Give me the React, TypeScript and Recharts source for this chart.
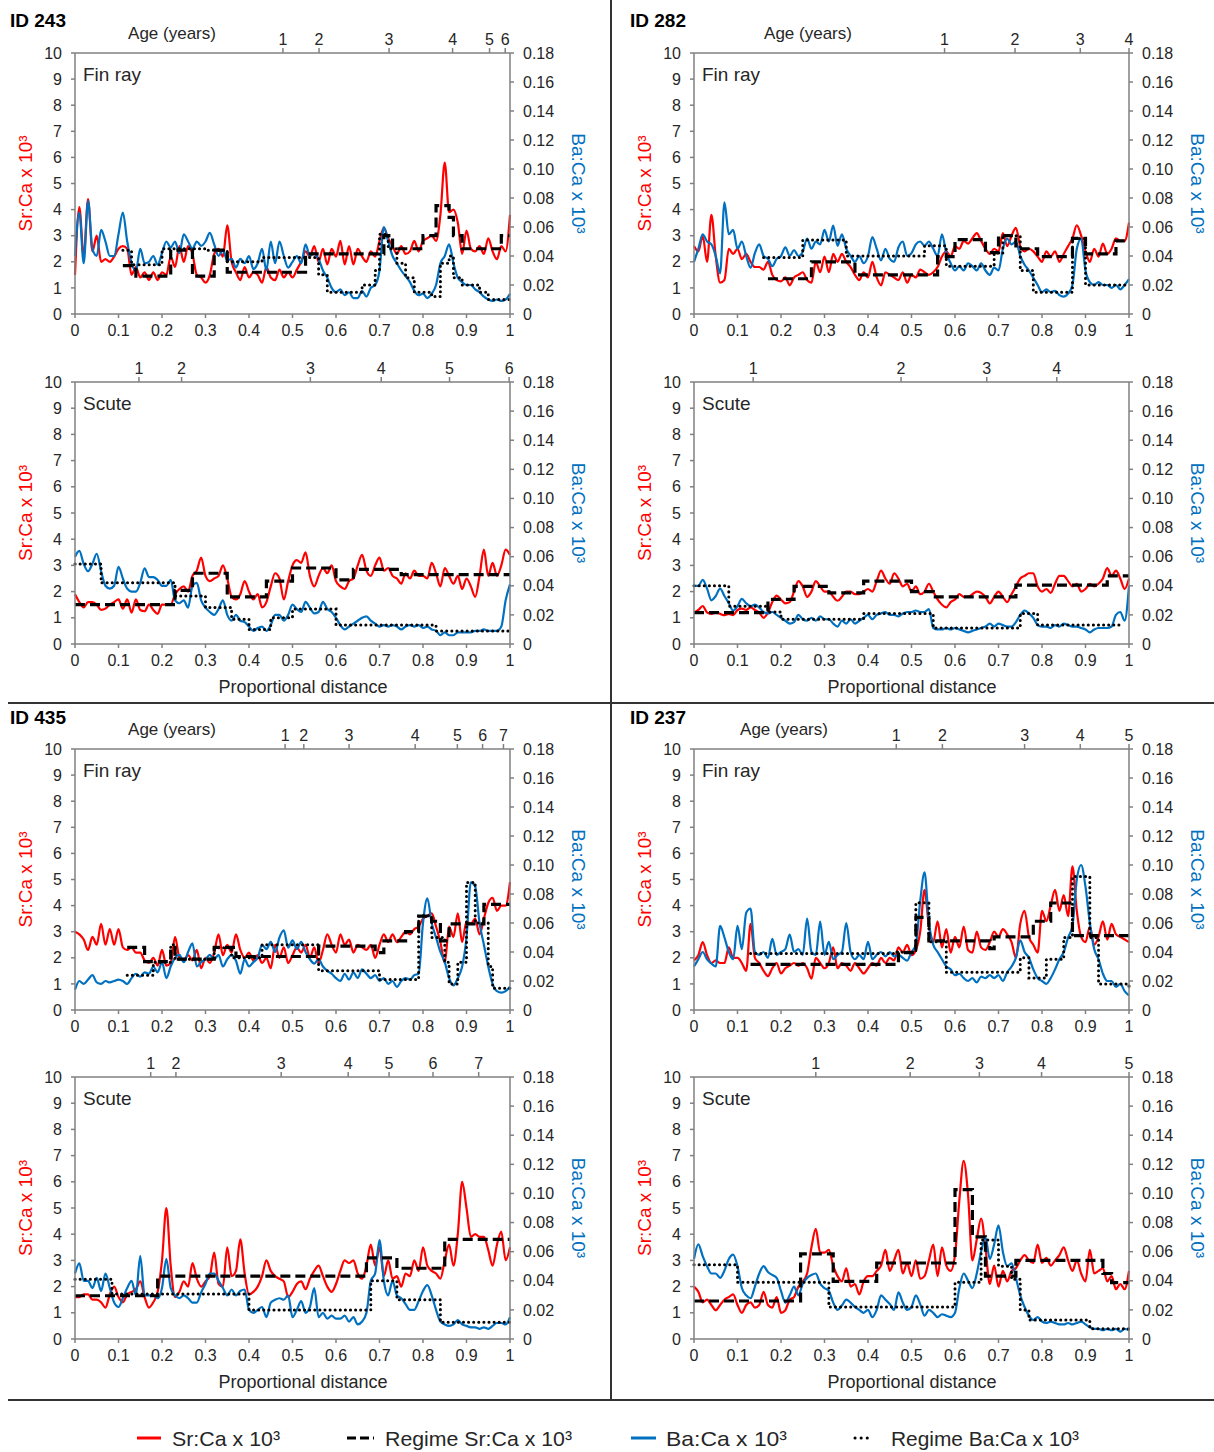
import React from 'react';
import { ComposedChart, Line, XAxis, YAxis } from 'recharts';

type Pt = [number, number];

const RED = '#ff0000';
const BLUE = '#0070c0';
const AXIS = '#808080';
const INK = '#262626';
const FONT = '"Liberation Sans", Arial, sans-serif';

// proportional distance grid shared by every profile
const DIST = Array.from({ length: 101 }, (_, i) => i / 100);
const X_TICKS = [0, 0.1, 0.2, 0.3, 0.4, 0.5, 0.6, 0.7, 0.8, 0.9, 1];
const SR_TICKS = [0, 1, 2, 3, 4, 5, 6, 7, 8, 9, 10];
const BA_TICKS = [0, 0.02, 0.04, 0.06, 0.08, 0.1, 0.12, 0.14, 0.16, 0.18];

// ---- ID 243 ----
const SR_243_FIN = [
  1.5, 4.1, 2.2, 4.4, 2.4, 3.0, 2.0, 2.1, 2.0, 2.2,
  2.5, 2.6, 2.5, 1.5, 1.8, 1.4, 1.6, 1.3, 1.6, 1.3,
  1.6, 1.5, 2.2, 1.8, 2.6, 2.0, 2.6, 2.3, 1.5, 1.4,
  1.2, 1.5, 2.3, 2.5, 2.2, 3.4, 2.0, 1.6, 1.3, 1.8,
  1.4, 1.6, 1.5, 1.2, 1.8, 1.4, 1.3, 1.7, 1.4, 1.6,
  1.4, 1.7, 2.0, 2.4, 2.2, 2.6, 2.0, 2.5, 1.9, 2.5,
  2.2, 2.8, 1.9, 2.6, 1.9, 2.5, 2.2, 2.0, 2.4, 2.2,
  2.8, 3.3, 2.9, 2.6, 2.3, 2.6, 2.3, 2.4, 2.8, 2.4,
  2.8, 2.9, 3.0, 2.8, 3.8, 5.8, 3.9, 4.0, 3.5, 2.3,
  3.2, 2.5, 2.4, 2.6, 2.3, 2.9, 2.4, 2.1, 2.6, 2.4,
  3.8,
];
const BA_243_FIN = [
  0.040, 0.070, 0.035, 0.078, 0.045, 0.040, 0.058, 0.050, 0.040, 0.040,
  0.055, 0.070, 0.050, 0.035, 0.030, 0.045, 0.035, 0.036, 0.040, 0.034,
  0.042, 0.050, 0.046, 0.050, 0.042, 0.055, 0.050, 0.045, 0.050, 0.047,
  0.050, 0.056, 0.048, 0.040, 0.044, 0.037, 0.038, 0.032, 0.038, 0.035,
  0.040, 0.031, 0.035, 0.045, 0.030, 0.050, 0.035, 0.050, 0.040, 0.032,
  0.036, 0.040, 0.035, 0.048, 0.040, 0.042, 0.038, 0.030, 0.025, 0.018,
  0.015, 0.017, 0.013, 0.015, 0.011, 0.011, 0.016, 0.012, 0.018, 0.020,
  0.030, 0.060, 0.050, 0.040, 0.035, 0.030, 0.026, 0.022, 0.016, 0.013,
  0.014, 0.011, 0.014, 0.020, 0.035, 0.040, 0.048, 0.035, 0.025, 0.022,
  0.020, 0.020, 0.017, 0.015, 0.012, 0.010, 0.009, 0.010, 0.009, 0.010,
  0.014,
];
const RSR_243_FIN: Pt[] = [[0.11, 1.85], [0.14, 1.45], [0.22, 2.45], [0.27, 1.45], [0.32, 2.45], [0.35, 1.6], [0.53, 2.3], [0.71, 3.0], [0.73, 2.5], [0.8, 3.0], [0.83, 4.15], [0.86, 3.7], [0.87, 3.0], [0.89, 2.5], [0.98, 3.0], [1.0, 3.0]];
const RBA_243_FIN: Pt[] = [[0.11, 0.044], [0.13, 0.034], [0.2, 0.045], [0.3, 0.044], [0.35, 0.036], [0.43, 0.039], [0.56, 0.027], [0.58, 0.015], [0.66, 0.02], [0.69, 0.03], [0.7, 0.055], [0.72, 0.045], [0.74, 0.035], [0.76, 0.025], [0.78, 0.015], [0.82, 0.012], [0.84, 0.035], [0.86, 0.04], [0.87, 0.025], [0.89, 0.02], [0.93, 0.015], [0.95, 0.01], [1.0, 0.01]];
const AGE_243_FIN = [0.478, 0.561, 0.722, 0.868, 0.953, 0.989];

const SR_243_SCUTE = [
  1.9, 1.6, 1.4, 1.6, 1.6, 1.5, 1.3, 1.35, 1.5, 1.6,
  1.7, 1.35, 1.7, 1.2, 1.7, 1.3, 1.25, 1.5, 1.3, 1.15,
  1.5, 1.5, 1.5, 1.9, 2.1, 2.2, 2.0, 2.6, 2.8, 3.3,
  2.6, 2.4, 2.5, 2.6, 3.0, 2.5, 1.8, 1.7, 1.9, 2.4,
  2.0, 1.7, 1.9, 1.4, 1.6, 2.2, 2.7, 2.5, 1.7, 2.4,
  3.0, 3.2, 3.1, 3.5, 2.6, 2.2, 2.6, 2.9, 2.7, 3.0,
  2.4, 2.2, 2.1, 2.4, 2.5, 3.0, 3.4, 2.8, 2.6, 3.0,
  3.3, 2.8, 2.9, 2.6, 2.5, 2.3, 2.7, 2.5, 2.8, 2.6,
  2.6, 2.5, 3.1, 2.7, 2.2, 2.9, 2.6, 2.3, 2.6, 2.1,
  2.5, 2.2, 1.8, 2.6, 3.6, 2.6, 3.1, 2.6, 3.0, 3.6,
  3.4,
];
const BA_243_SCUTE = [
  0.060, 0.064, 0.055, 0.050, 0.055, 0.062, 0.050, 0.040, 0.038, 0.040,
  0.053, 0.045, 0.038, 0.036, 0.036, 0.042, 0.052, 0.046, 0.046, 0.044,
  0.040, 0.040, 0.044, 0.030, 0.028, 0.030, 0.025, 0.040, 0.042, 0.030,
  0.025, 0.022, 0.020, 0.024, 0.030, 0.020, 0.016, 0.020, 0.016, 0.015,
  0.012, 0.009, 0.011, 0.012, 0.009, 0.013, 0.020, 0.020, 0.016, 0.020,
  0.027, 0.024, 0.022, 0.029, 0.025, 0.021, 0.022, 0.029, 0.024, 0.022,
  0.018, 0.013, 0.010, 0.012, 0.014, 0.016, 0.018, 0.019, 0.016, 0.014,
  0.012, 0.013, 0.012, 0.013, 0.012, 0.010, 0.012, 0.013, 0.012, 0.013,
  0.011, 0.012, 0.010, 0.009, 0.006, 0.008, 0.006, 0.006, 0.008, 0.008,
  0.008, 0.008, 0.009, 0.009, 0.010, 0.009, 0.009, 0.009, 0.012, 0.030,
  0.041,
];
const RSR_243_SCUTE: Pt[] = [[0, 1.5], [0.23, 2.05], [0.27, 2.7], [0.35, 1.8], [0.44, 2.4], [0.5, 2.9], [0.6, 2.45], [0.64, 2.85], [0.75, 2.65], [1.0, 2.65]];
const RBA_243_SCUTE: Pt[] = [[0, 0.055], [0.06, 0.042], [0.23, 0.033], [0.3, 0.025], [0.36, 0.017], [0.4, 0.01], [0.45, 0.018], [0.5, 0.024], [0.6, 0.013], [0.83, 0.009], [1.0, 0.009]];
const AGE_243_SCUTE = [0.147, 0.245, 0.541, 0.704, 0.861, 0.998];

// ---- ID 282 ----
const SR_282_FIN = [
  2.6, 2.4, 3.0, 2.0, 3.8, 2.2, 1.2, 1.3, 2.5, 2.3,
  2.5, 2.1, 2.3, 2.0, 1.8, 1.8, 1.7, 2.0, 1.5, 1.3,
  1.25, 1.4, 1.1, 1.4, 1.5, 1.6, 1.3, 1.2, 2.0, 1.6,
  2.2, 1.6, 2.3, 2.0, 2.3, 2.0, 1.8, 1.5, 1.3, 1.6,
  1.4, 2.0, 1.4, 1.1, 1.6, 1.5, 1.4, 1.3, 1.6, 1.2,
  1.5, 1.4, 1.7, 1.6, 1.5, 1.6, 1.8, 2.2, 2.4, 2.2,
  2.6, 2.5, 2.8, 2.7, 2.9, 3.1, 2.8, 2.5, 2.3, 2.5,
  2.4, 3.1, 2.6, 3.0, 3.3, 2.6, 2.4, 2.5, 2.4, 2.2,
  2.0, 2.4, 2.2, 2.4, 2.0, 2.3, 2.6, 2.9, 3.4, 3.0,
  2.4, 2.0, 2.5, 2.2, 2.7, 2.3, 2.5, 2.9, 2.8, 2.8,
  3.5,
];
const BA_282_FIN = [
  0.036, 0.045, 0.055, 0.050, 0.048, 0.040, 0.028, 0.077, 0.055, 0.058,
  0.045, 0.050, 0.040, 0.032, 0.042, 0.048, 0.040, 0.038, 0.033, 0.038,
  0.040, 0.046, 0.040, 0.044, 0.040, 0.043, 0.052, 0.045, 0.050, 0.048,
  0.058, 0.050, 0.061, 0.047, 0.055, 0.045, 0.040, 0.036, 0.040, 0.035,
  0.040, 0.053, 0.045, 0.037, 0.045, 0.038, 0.036, 0.046, 0.050, 0.040,
  0.042, 0.048, 0.050, 0.047, 0.050, 0.045, 0.040, 0.055, 0.042, 0.035,
  0.030, 0.033, 0.030, 0.035, 0.033, 0.030, 0.035, 0.030, 0.027, 0.032,
  0.030, 0.045, 0.052, 0.048, 0.050, 0.040, 0.034, 0.030, 0.025, 0.020,
  0.015, 0.017, 0.015, 0.016, 0.013, 0.012, 0.014, 0.020, 0.045, 0.052,
  0.030, 0.022, 0.020, 0.022, 0.020, 0.020, 0.018, 0.020, 0.017, 0.020,
  0.024,
];
const RSR_282_FIN: Pt[] = [[0.17, 1.35], [0.27, 2.0], [0.37, 1.5], [0.56, 2.2], [0.6, 2.85], [0.67, 2.35], [0.7, 3.0], [0.74, 2.5], [0.79, 2.2], [0.87, 2.9], [0.9, 2.3], [0.97, 2.8], [1.0, 2.8]];
const RBA_282_FIN: Pt[] = [[0.16, 0.039], [0.25, 0.051], [0.35, 0.04], [0.53, 0.047], [0.58, 0.033], [0.69, 0.042], [0.71, 0.054], [0.75, 0.03], [0.78, 0.015], [0.87, 0.052], [0.9, 0.02], [1.0, 0.02]];
const AGE_282_FIN = [0.576, 0.738, 0.888, 1.0];

const SR_282_SCUTE = [
  1.2, 1.3, 1.45, 1.2, 1.15, 1.2, 1.15, 1.1, 1.15, 1.1,
  1.3, 1.35, 1.3, 1.4, 1.3, 1.2, 1.0, 1.2, 1.6, 1.85,
  1.7, 1.55, 1.6, 2.0, 2.4, 2.2, 1.8, 2.0, 2.4, 2.2,
  2.0, 2.0, 1.8, 1.65, 1.8, 2.0, 2.0, 1.9, 1.9, 2.0,
  2.1, 2.0, 2.4, 2.8, 2.5, 2.3, 2.7, 2.5, 2.2, 2.3,
  2.0, 2.2, 1.9, 2.0, 2.3, 2.0, 1.7, 1.5, 1.4, 1.6,
  1.7, 1.9, 1.8, 1.8, 1.9, 2.0, 1.95, 1.8, 1.55, 1.8,
  2.0, 1.8, 1.6, 1.9, 2.2, 2.5, 2.6, 2.7, 2.7, 2.2,
  2.0, 2.1, 1.95, 2.3, 2.6, 2.6, 2.4, 2.2, 2.3, 2.0,
  2.1, 2.3, 2.2, 2.3, 2.5, 2.9, 2.6, 2.8, 2.5, 2.1,
  2.5,
];
const BA_282_SCUTE = [
  0.040, 0.040, 0.044, 0.038, 0.030, 0.033, 0.038, 0.033, 0.028, 0.023,
  0.026, 0.031, 0.028, 0.026, 0.027, 0.025, 0.022, 0.021, 0.022, 0.020,
  0.018, 0.016, 0.014, 0.015, 0.020, 0.017, 0.016, 0.018, 0.016, 0.019,
  0.017, 0.017, 0.014, 0.012, 0.016, 0.014, 0.017, 0.014, 0.016, 0.018,
  0.020, 0.017, 0.020, 0.021, 0.022, 0.020, 0.020, 0.019, 0.021, 0.022,
  0.022, 0.023, 0.022, 0.022, 0.024, 0.011, 0.010, 0.010, 0.011, 0.010,
  0.011, 0.010, 0.009, 0.008, 0.009, 0.010, 0.011, 0.012, 0.014, 0.012,
  0.014, 0.013, 0.012, 0.012, 0.015, 0.020, 0.023, 0.021, 0.018, 0.013,
  0.012, 0.012, 0.011, 0.013, 0.012, 0.014, 0.013, 0.012, 0.012, 0.011,
  0.010, 0.008, 0.010, 0.011, 0.011, 0.011, 0.012, 0.020, 0.022, 0.016,
  0.040,
];
const RSR_282_SCUTE: Pt[] = [[0, 1.2], [0.17, 1.7], [0.23, 2.2], [0.31, 1.95], [0.39, 2.4], [0.5, 2.0], [0.55, 1.8], [0.74, 2.25], [0.95, 2.6], [1.0, 2.6]];
const RBA_282_SCUTE: Pt[] = [[0, 0.04], [0.08, 0.026], [0.17, 0.022], [0.2, 0.017], [0.39, 0.021], [0.55, 0.011], [0.75, 0.021], [0.79, 0.013], [0.98, 0.013]];
const AGE_282_SCUTE = [0.136, 0.476, 0.673, 0.834];

// ---- ID 435 ----
const SR_435_FIN = [
  3.0, 2.9, 2.7, 2.3, 2.8, 2.5, 3.3, 2.5, 3.1, 2.5,
  3.1, 2.4, 2.3, 2.4, 2.2, 2.2, 1.9, 1.8, 2.0, 1.7,
  2.3, 1.7, 1.8, 2.8, 2.0, 1.9, 2.1, 1.9, 2.3, 1.6,
  2.0, 1.8, 2.2, 2.9, 2.1, 2.5, 2.2, 2.9, 2.3, 2.0,
  2.2, 1.9, 2.1, 1.8, 2.0, 1.6, 2.5, 2.0, 2.4, 1.8,
  2.1, 2.4, 2.2, 2.5, 2.0, 2.4, 1.8, 2.3, 2.9, 2.5,
  2.2, 2.9, 2.5, 2.7, 2.2, 2.5, 2.4, 2.3, 2.5, 2.0,
  2.5, 2.9, 2.6, 2.9, 2.6, 2.8, 3.0, 2.9, 3.1, 3.2,
  3.5, 3.6, 3.7, 3.2, 2.6, 1.8, 3.2, 2.8, 3.7, 2.6,
  3.4, 3.3, 3.5, 2.9, 3.5, 4.1, 4.3, 3.8, 4.0, 4.0,
  4.9,
];
const BA_435_FIN = [
  0.014, 0.020, 0.018, 0.021, 0.024, 0.019, 0.018, 0.020, 0.019, 0.020,
  0.021, 0.020, 0.018, 0.022, 0.025, 0.023, 0.026, 0.025, 0.030, 0.026,
  0.033, 0.022, 0.030, 0.036, 0.038, 0.033, 0.040, 0.046, 0.030, 0.033,
  0.035, 0.038, 0.035, 0.038, 0.030, 0.035, 0.038, 0.034, 0.025, 0.035,
  0.030, 0.033, 0.036, 0.045, 0.042, 0.047, 0.040, 0.050, 0.055, 0.043,
  0.048, 0.042, 0.047, 0.040, 0.035, 0.032, 0.035, 0.030, 0.027, 0.025,
  0.022, 0.020, 0.025, 0.021, 0.026, 0.022, 0.028, 0.025, 0.022, 0.024,
  0.020, 0.022, 0.018, 0.020, 0.016, 0.020, 0.022, 0.021, 0.024, 0.025,
  0.060, 0.077, 0.060, 0.050, 0.040, 0.033, 0.022, 0.017, 0.022, 0.030,
  0.050, 0.088, 0.085, 0.060, 0.045, 0.030, 0.018, 0.013, 0.012, 0.013,
  0.016,
];
const RSR_435_FIN: Pt[] = [[0.12, 2.4], [0.16, 1.85], [0.22, 2.4], [0.23, 1.95], [0.32, 2.4], [0.37, 2.05], [0.56, 2.45], [0.69, 2.2], [0.71, 2.65], [0.76, 3.0], [0.79, 3.6], [0.82, 3.4], [0.84, 2.65], [0.86, 3.3], [0.94, 4.05], [1.0, 4.05]];
const RBA_435_FIN: Pt[] = [[0.12, 0.024], [0.18, 0.033], [0.22, 0.045], [0.23, 0.035], [0.32, 0.043], [0.36, 0.036], [0.43, 0.045], [0.56, 0.027], [0.7, 0.021], [0.79, 0.065], [0.82, 0.05], [0.85, 0.033], [0.86, 0.018], [0.88, 0.033], [0.9, 0.088], [0.92, 0.06], [0.95, 0.03], [0.96, 0.015], [1.0, 0.015]];
const AGE_435_FIN = [0.483, 0.526, 0.63, 0.782, 0.879, 0.937, 0.985];

const SR_435_SCUTE = [
  1.6, 1.6, 1.7, 1.7, 1.5, 1.5, 1.4, 1.2, 1.7, 2.0,
  1.6, 1.4, 1.7, 1.8, 1.9, 2.2, 1.6, 1.2, 1.4, 1.8,
  3.0, 5.0, 2.8, 1.6, 1.8, 2.2, 2.0, 2.9, 2.3, 2.0,
  2.2, 2.4, 3.3, 2.1, 2.0, 3.5, 2.4, 2.6, 3.8, 2.5,
  1.7, 1.8, 2.0, 2.4, 3.0, 2.6, 2.4, 2.3, 2.2, 1.6,
  1.8, 2.1, 2.2, 1.9, 2.3, 2.6, 2.8, 2.4, 2.0, 1.8,
  2.1, 2.6, 3.0, 2.9, 3.0, 2.5, 2.3, 2.8, 3.6, 2.8,
  3.5, 2.4, 3.0, 2.3, 2.4, 2.0, 2.5, 2.4, 3.0, 2.6,
  3.5, 2.8, 2.6, 2.5, 2.3, 3.0, 3.6, 2.8, 4.0, 6.0,
  5.0, 3.9, 4.0, 3.9, 3.9, 3.4, 2.8, 3.6, 4.1, 3.0,
  3.5,
];
const BA_435_SCUTE = [
  0.045, 0.052, 0.040, 0.040, 0.035, 0.042, 0.033, 0.045, 0.035, 0.025,
  0.022, 0.028, 0.035, 0.040, 0.030, 0.057, 0.030, 0.030, 0.030, 0.028,
  0.035, 0.055, 0.035, 0.030, 0.028, 0.030, 0.028, 0.025, 0.025, 0.032,
  0.038, 0.045, 0.045, 0.040, 0.035, 0.030, 0.034, 0.030, 0.033, 0.034,
  0.020, 0.018, 0.020, 0.022, 0.015, 0.025, 0.027, 0.028, 0.027, 0.030,
  0.015, 0.020, 0.026, 0.018, 0.022, 0.035, 0.015, 0.018, 0.014, 0.016,
  0.014, 0.014, 0.016, 0.012, 0.015, 0.010, 0.012, 0.018, 0.040, 0.045,
  0.068, 0.040, 0.030, 0.040, 0.030, 0.028, 0.024, 0.020, 0.020, 0.026,
  0.033, 0.037, 0.030, 0.020, 0.012, 0.010, 0.009, 0.010, 0.013, 0.010,
  0.009, 0.008, 0.008, 0.007, 0.008, 0.007, 0.009, 0.011, 0.011, 0.010,
  0.015,
];
const RSR_435_SCUTE: Pt[] = [[0, 1.65], [0.19, 2.4], [0.67, 3.1], [0.74, 2.7], [0.85, 3.8], [1.0, 3.8]];
const RBA_435_SCUTE: Pt[] = [[0, 0.041], [0.085, 0.031], [0.4, 0.02], [0.68, 0.04], [0.74, 0.027], [0.84, 0.0115], [1.0, 0.0115]];
const AGE_435_SCUTE = [0.174, 0.232, 0.474, 0.628, 0.722, 0.823, 0.928];

// ---- ID 237 ----
const SR_237_FIN = [
  1.9, 2.1, 2.6, 2.1, 1.8, 1.9, 1.8, 1.8, 2.4, 2.0,
  2.0, 1.8, 1.5, 3.3, 2.0, 1.8, 1.5, 1.3, 1.6, 1.8,
  1.4, 1.6, 1.7, 1.8, 1.7, 1.8, 1.6, 1.2, 2.0, 1.8,
  1.6, 1.8, 2.4, 1.6, 1.8, 1.7, 1.5, 1.8, 1.6, 1.4,
  1.6, 1.8, 1.7, 2.0, 1.8, 2.0, 1.9, 2.4, 2.2, 2.5,
  2.1, 2.3, 3.0, 4.6, 3.2, 2.6, 3.4, 2.4, 3.1, 2.2,
  2.8, 2.4, 3.2, 2.3, 2.2, 3.0, 2.4, 2.3, 2.6, 3.0,
  2.8, 3.1, 2.9, 2.6, 2.0, 3.3, 3.8, 2.8, 2.5, 2.2,
  3.8, 3.4, 4.0, 4.6, 3.8, 4.4, 3.6, 5.5, 3.8, 2.8,
  2.6, 3.2, 2.5, 2.8, 3.4, 2.7, 3.3, 2.9, 2.8, 2.7,
  2.6,
];
const BA_237_FIN = [
  0.030, 0.035, 0.040, 0.035, 0.032, 0.030, 0.058, 0.050, 0.040, 0.035,
  0.058, 0.042, 0.067, 0.070, 0.040, 0.038, 0.040, 0.036, 0.049, 0.038,
  0.040, 0.042, 0.052, 0.040, 0.042, 0.038, 0.063, 0.040, 0.038, 0.061,
  0.038, 0.047, 0.035, 0.038, 0.040, 0.060, 0.040, 0.035, 0.038, 0.035,
  0.047, 0.035, 0.038, 0.040, 0.037, 0.040, 0.037, 0.038, 0.036, 0.034,
  0.040, 0.045, 0.075, 0.095, 0.060, 0.045, 0.040, 0.035, 0.030, 0.028,
  0.024, 0.025, 0.022, 0.020, 0.022, 0.019, 0.023, 0.022, 0.024, 0.022,
  0.024, 0.020, 0.026, 0.030, 0.036, 0.048, 0.040, 0.036, 0.028, 0.022,
  0.020, 0.018, 0.022, 0.028, 0.035, 0.040, 0.050, 0.058, 0.090, 0.100,
  0.085, 0.060, 0.042, 0.035, 0.025, 0.020, 0.020, 0.016, 0.018, 0.013,
  0.010,
];
const RSR_237_FIN: Pt[] = [[0.13, 1.75], [0.47, 2.2], [0.51, 3.55], [0.54, 2.65], [0.68, 2.35], [0.69, 2.8], [0.78, 3.4], [0.82, 4.1], [0.87, 2.85], [1.0, 2.85]];
const RBA_237_FIN: Pt[] = [[0.13, 0.039], [0.46, 0.04], [0.51, 0.074], [0.54, 0.047], [0.58, 0.026], [0.75, 0.036], [0.77, 0.022], [0.81, 0.035], [0.85, 0.05], [0.87, 0.092], [0.91, 0.05], [0.93, 0.018], [1.0, 0.015]];
const AGE_237_FIN = [0.465, 0.571, 0.76, 0.888, 1.0];

const SR_237_SCUTE = [
  2.0, 1.8, 1.4, 1.5, 1.3, 1.1, 1.3, 1.5, 1.6, 1.7,
  1.3, 1.0, 1.3, 1.4, 1.2, 1.3, 1.8, 1.3, 1.2, 1.6,
  1.0, 1.1, 1.5, 1.6, 2.0, 2.2, 2.5, 3.5, 4.2, 3.3,
  3.3, 3.4, 2.8, 2.4, 2.2, 2.7, 2.0, 2.1, 1.7, 2.2,
  2.4, 2.4, 2.6, 2.8, 3.4, 2.6, 3.0, 3.4, 2.5, 2.9,
  2.4, 3.0, 2.3, 2.4, 3.0, 3.6, 2.4, 3.5, 2.8, 2.6,
  3.2, 5.3, 6.8, 5.5, 3.0, 3.8, 4.6, 3.5, 2.1, 2.8,
  2.0, 2.6, 2.2, 2.6, 2.7, 3.0, 3.2, 3.0, 2.9, 3.6,
  2.9, 3.1, 2.8, 3.0, 3.2, 3.5, 3.0, 2.6, 3.0, 2.5,
  2.2, 3.4, 2.5, 2.6, 2.7, 2.2, 2.4, 1.9, 2.1, 1.9,
  2.6,
];
const BA_237_SCUTE = [
  0.055, 0.065, 0.057, 0.050, 0.045, 0.045, 0.042, 0.047, 0.055, 0.058,
  0.050, 0.035, 0.030, 0.028, 0.036, 0.045, 0.050, 0.046, 0.044, 0.042,
  0.033, 0.025, 0.030, 0.036, 0.030, 0.038, 0.042, 0.044, 0.045, 0.038,
  0.035, 0.033, 0.025, 0.020, 0.023, 0.027, 0.025, 0.022, 0.020, 0.018,
  0.020, 0.015, 0.020, 0.030, 0.027, 0.024, 0.020, 0.032, 0.025, 0.020,
  0.022, 0.030, 0.024, 0.016, 0.020, 0.018, 0.015, 0.017, 0.016, 0.015,
  0.018, 0.035, 0.045, 0.040, 0.035, 0.045, 0.060, 0.070, 0.055, 0.065,
  0.078, 0.060, 0.050, 0.052, 0.042, 0.030, 0.022, 0.016, 0.013, 0.015,
  0.012, 0.011, 0.012, 0.011, 0.010, 0.010, 0.011, 0.010, 0.011, 0.012,
  0.010, 0.008, 0.007, 0.007, 0.006, 0.007, 0.006, 0.007, 0.005, 0.007,
  0.006,
];
const RSR_237_SCUTE: Pt[] = [[0, 1.45], [0.245, 3.25], [0.32, 2.2], [0.42, 2.9], [0.6, 5.7], [0.64, 3.9], [0.67, 2.4], [0.74, 3.0], [0.94, 2.5], [0.96, 2.15], [1.0, 2.15]];
const RBA_237_SCUTE: Pt[] = [[0, 0.051], [0.1, 0.039], [0.31, 0.022], [0.6, 0.039], [0.66, 0.068], [0.7, 0.05], [0.73, 0.041], [0.75, 0.02], [0.77, 0.013], [0.91, 0.007], [1.0, 0.007]];
const AGE_237_SCUTE = [0.28, 0.497, 0.656, 0.799, 1.0];

interface PanelDef {
  tag: string;
  left: number;
  top: number;
  width: number;
  height: number;
  plotLeft: number;
  plotTop: number;
  plotBottom: number;
  sr: number[];
  ba: number[];
  rsr: Pt[];
  rba: Pt[];
  age: number[];
  ageTitleX?: number;
  xTitleX?: number;
}

const PLOT_W = 435;

const PANELS: PanelDef[] = [
  { tag: 'Fin ray', left: 0, top: 0, width: 605, height: 345, plotLeft: 75, plotTop: 53, plotBottom: 314, sr: SR_243_FIN, ba: BA_243_FIN, rsr: RSR_243_FIN, rba: RBA_243_FIN, age: AGE_243_FIN, ageTitleX: 172 },
  { tag: 'Scute', left: 0, top: 345, width: 605, height: 355, plotLeft: 75, plotTop: 382, plotBottom: 644, sr: SR_243_SCUTE, ba: BA_243_SCUTE, rsr: RSR_243_SCUTE, rba: RBA_243_SCUTE, age: AGE_243_SCUTE, xTitleX: 303 },
  { tag: 'Fin ray', left: 619, top: 0, width: 595, height: 345, plotLeft: 694, plotTop: 53, plotBottom: 314, sr: SR_282_FIN, ba: BA_282_FIN, rsr: RSR_282_FIN, rba: RBA_282_FIN, age: AGE_282_FIN, ageTitleX: 808 },
  { tag: 'Scute', left: 619, top: 345, width: 595, height: 355, plotLeft: 694, plotTop: 382, plotBottom: 644, sr: SR_282_SCUTE, ba: BA_282_SCUTE, rsr: RSR_282_SCUTE, rba: RBA_282_SCUTE, age: AGE_282_SCUTE, xTitleX: 912 },
  { tag: 'Fin ray', left: 0, top: 705, width: 605, height: 340, plotLeft: 75, plotTop: 749, plotBottom: 1010, sr: SR_435_FIN, ba: BA_435_FIN, rsr: RSR_435_FIN, rba: RBA_435_FIN, age: AGE_435_FIN, ageTitleX: 172 },
  { tag: 'Scute', left: 0, top: 1045, width: 605, height: 355, plotLeft: 75, plotTop: 1077, plotBottom: 1339, sr: SR_435_SCUTE, ba: BA_435_SCUTE, rsr: RSR_435_SCUTE, rba: RBA_435_SCUTE, age: AGE_435_SCUTE, xTitleX: 303 },
  { tag: 'Fin ray', left: 619, top: 705, width: 595, height: 340, plotLeft: 694, plotTop: 749, plotBottom: 1010, sr: SR_237_FIN, ba: BA_237_FIN, rsr: RSR_237_FIN, rba: RBA_237_FIN, age: AGE_237_FIN, ageTitleX: 784 },
  { tag: 'Scute', left: 619, top: 1045, width: 595, height: 355, plotLeft: 694, plotTop: 1077, plotBottom: 1339, sr: SR_237_SCUTE, ba: BA_237_SCUTE, rsr: RSR_237_SCUTE, rba: RBA_237_SCUTE, age: AGE_237_SCUTE, xTitleX: 912 },
];

const IDS = [
  { text: 'ID 243', x: 10, y: 10 },
  { text: 'ID 282', x: 630, y: 10 },
  { text: 'ID 435', x: 10, y: 707 },
  { text: 'ID 237', x: 630, y: 707 },
];

const tickStyle = { fill: INK, fontSize: 16, fontFamily: FONT };

const Panel: React.FC<{ p: PanelDef }> = ({ p }) => {
  const rows = DIST.map((x, i) => ({ x, sr: p.sr[i], ba: p.ba[i] }));
  const rsr = p.rsr.map(([x, v]) => ({ x, v }));
  const rba = p.rba.map(([x, v]) => ({ x, v }));
  const topH = 30;
  const leftW = p.plotLeft - p.left;
  const rightW = p.left + p.width - p.plotLeft - PLOT_W;
  const bottomH = p.top + p.height - p.plotBottom;
  const marginTop = p.plotTop - p.top - topH;

  const srTitle = (props: any) => {
    const vb = props.viewBox;
    const cx = vb.x + 25;
    const cy = vb.y + vb.height / 2;
    return (
      <text x={cx} y={cy} transform={`rotate(-90 ${cx} ${cy})`} textAnchor="middle" dominantBaseline="central" fill={RED} fontSize={19} fontFamily={FONT}>
        Sr:Ca x 10³
      </text>
    );
  };
  const baTitle = (props: any) => {
    const vb = props.viewBox;
    const cx = vb.x + 68;
    const cy = vb.y + vb.height / 2;
    return (
      <text x={cx} y={cy} transform={`rotate(90 ${cx} ${cy})`} textAnchor="middle" dominantBaseline="central" fill={BLUE} fontSize={19} fontFamily={FONT}>
        Ba:Ca x 10³
      </text>
    );
  };
  const topTitle = (props: any) => {
    const vb = props.viewBox;
    const plotTop = vb.y + vb.height;
    return (
      <g fontFamily={FONT} fill={INK}>
        <text x={vb.x + 8} y={plotTop + 21} dominantBaseline="central" fontSize={19}>{p.tag}</text>
        {p.ageTitleX !== undefined && (
          <text x={p.ageTitleX - p.left} y={plotTop - 20} textAnchor="middle" dominantBaseline="central" fontSize={17}>
            Age (years)
          </text>
        )}
      </g>
    );
  };
  const bottomTitle = (props: any) => {
    const vb = props.viewBox;
    return (
      <text x={(p.xTitleX ?? 0) - p.left} y={vb.y + 43} textAnchor="middle" dominantBaseline="central" fontSize={18} fontFamily={FONT} fill={INK}>
        Proportional distance
      </text>
    );
  };

  return (
    <div style={{ position: 'absolute', left: p.left, top: p.top }}>
      <ComposedChart width={p.width} height={p.height} data={rows} margin={{ top: marginTop, right: 0, bottom: 0, left: 0 }}>
        <XAxis
          xAxisId="b"
          type="number"
          dataKey="x"
          domain={[0, 1]}
          ticks={X_TICKS}
          interval={0}
          height={bottomH}
          stroke={AXIS}
          strokeWidth={1.5}
          tickSize={4}
          tickMargin={7}
          tick={tickStyle}
          label={p.xTitleX !== undefined ? bottomTitle : undefined}
        />
        <XAxis
          xAxisId="t"
          orientation="top"
          type="number"
          dataKey="x"
          domain={[0, 1]}
          ticks={p.age}
          interval={0}
          height={topH}
          stroke={AXIS}
          strokeWidth={1.5}
          tickSize={5}
          tickMargin={3}
          tick={tickStyle}
          tickFormatter={(v: number) => String(p.age.indexOf(v) + 1)}
          label={topTitle}
        />
        <YAxis
          yAxisId="sr"
          domain={[0, 10]}
          ticks={SR_TICKS}
          interval={0}
          width={leftW}
          stroke={AXIS}
          strokeWidth={1.5}
          tickSize={4}
          tickMargin={9}
          tick={tickStyle}
          label={srTitle}
        />
        <YAxis
          yAxisId="ba"
          orientation="right"
          domain={[0, 0.18]}
          ticks={BA_TICKS}
          interval={0}
          width={rightW}
          stroke={AXIS}
          strokeWidth={1.5}
          tickSize={4}
          tickMargin={9}
          tick={{ ...tickStyle, textAnchor: 'start' }}
          tickFormatter={(v: number) => (v === 0 ? '0' : v.toFixed(2))}
          label={baTitle}
        />
        <Line xAxisId="b" yAxisId="sr" dataKey="sr" type="monotone" stroke={RED} strokeWidth={2.2} dot={false} isAnimationActive={false} />
        <Line xAxisId="b" yAxisId="ba" dataKey="ba" type="monotone" stroke={BLUE} strokeWidth={2.2} dot={false} isAnimationActive={false} />
        <Line xAxisId="b" yAxisId="sr" data={rsr} dataKey="v" type="stepAfter" stroke="#000" strokeWidth={3.2} strokeDasharray="10 5" dot={false} isAnimationActive={false} />
        <Line xAxisId="b" yAxisId="ba" data={rba} dataKey="v" type="stepAfter" stroke="#000" strokeWidth={3} strokeDasharray="0.1 5" strokeLinecap="round" dot={false} isAnimationActive={false} />
      </ComposedChart>
    </div>
  );
};

const LEGEND = [
  { label: 'Sr:Ca x 10³', x1: 137, x2: 161, tx: 172, tw: 108, stroke: RED, dash: undefined as string | undefined, cap: 'butt' },
  { label: 'Regime Sr:Ca x 10³', x1: 347, x2: 374, tx: 385, tw: 187, stroke: '#000', dash: '9 4', cap: 'butt' },
  { label: 'Ba:Ca x 10³', x1: 631, x2: 656, tx: 666, tw: 121, stroke: BLUE, dash: undefined, cap: 'butt' },
  { label: 'Regime Ba:Ca x 10³', x1: 855, x2: 873, tx: 891, tw: 188, stroke: '#000', dash: '0.1 6', cap: 'round' },
];

const Legend: React.FC = () => (
  <svg width={1214} height={40} style={{ position: 'absolute', left: 0, top: 1418 }}>
    {LEGEND.map((l) => (
      <g key={l.label}>
        <line x1={l.x1} x2={l.x2} y1={20} y2={20} stroke={l.stroke} strokeWidth={3} strokeDasharray={l.dash} strokeLinecap={l.cap as any} />
        <text x={l.tx} y={20} dominantBaseline="central" fontSize={21} fontFamily='"Liberation Sans Narrow", "Liberation Sans", sans-serif' fill={INK} textLength={l.tw} lengthAdjust="spacingAndGlyphs">
          {l.label}
        </text>
      </g>
    ))}
  </svg>
);

export default function App() {
  return (
    <div style={{ position: 'absolute', left: 0, top: 0, width: 1214, height: 1452, background: '#fff', fontFamily: FONT }}>
      {PANELS.map((p, i) => (
        <Panel key={i} p={p} />
      ))}
      {IDS.map((d) => (
        <div key={d.text} style={{ position: 'absolute', left: d.x, top: d.y, fontSize: 19, fontWeight: 'bold', color: '#000', lineHeight: '22px' }}>
          {d.text}
        </div>
      ))}
      <div style={{ position: 'absolute', left: 610, top: 0, width: 2, height: 1401, background: '#333' }} />
      <div style={{ position: 'absolute', left: 8, top: 702, width: 1206, height: 2, background: '#333' }} />
      <div style={{ position: 'absolute', left: 8, top: 1399, width: 1206, height: 2, background: '#333' }} />
      <Legend />
    </div>
  );
}
